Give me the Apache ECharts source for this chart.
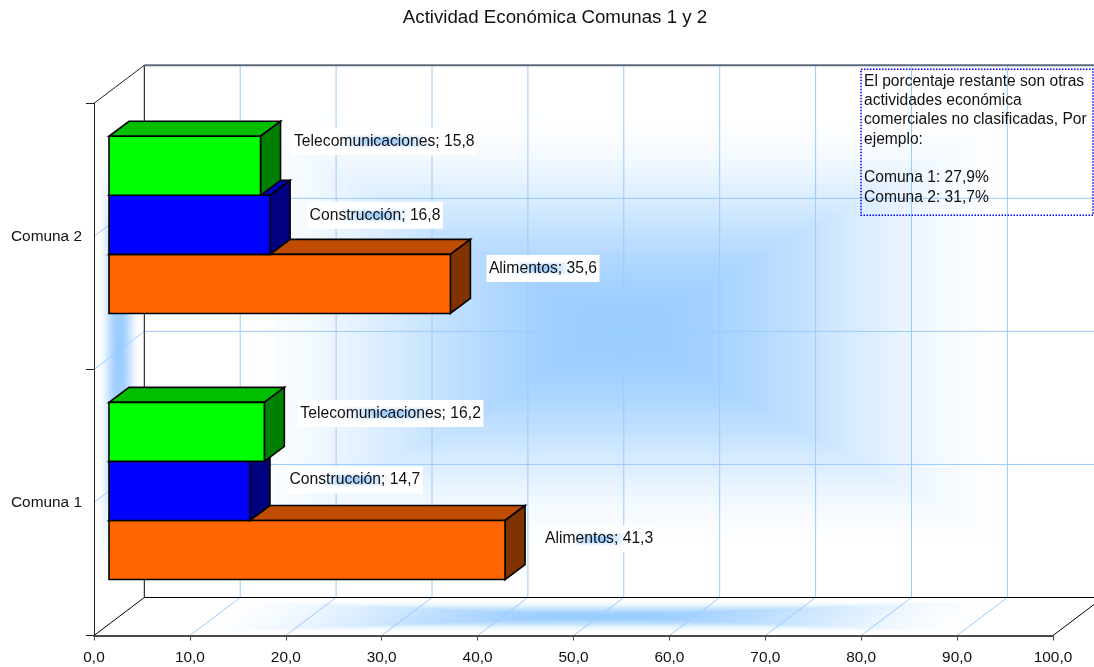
<!DOCTYPE html>
<html>
<head>
<meta charset="utf-8">
<title>Actividad Económica Comunas 1 y 2</title>
<script src="https://cdn.jsdelivr.net/npm/echarts@6/dist/echarts.min.js"></script>
<style>
  html, body { margin: 0; padding: 0; background: #fff; }
  #chart { width: 1094px; height: 667px; }
</style>
</head>
<body>
<div id="chart"></div>
<script>
// Values
const categories = ['Comuna 1', 'Comuna 2'];
const alimentos = [41.3, 35.6];
const construccion = [14.7, 16.8];
const telecomunicaciones = [16.2, 15.8];
const chartTitle = 'Actividad Económica Comunas 1 y 2';
const noteText = [
  'El porcentaje restante son otras',
  'actividades económica',
  'comerciales no clasificadas, Por',
  'ejemplo:',
  '',
  'Comuna 1: 27,9%',
  'Comuna 2: 31,7%'
].join('\n');

// Hand-placed label offsets from the bar's end: [dx, dy] per category
const alimentosLabelShift = [[37.5, -11], [36, -15.5]];
const construccionLabelShift = [[37, -11], [37, -9.5]];
const telecomLabelShift = [[33.5, -18.5], [31, -24.5]];

// 3D look of the plot box and bars, in pixels
const FONT = '"Liberation Sans", Arial, sans-serif';
const TEXT_COLOR = '#111';
const LABEL_SIZE = 15.7;
const AXIS_SIZE = 15.4;
const NOTE_SIZE = 15.6;
const TITLE_SIZE = 18.7;
const BOX_DX = 50.3, BOX_DY = 38;
const BAR_INSET_X = 15, BAR_INSET_Y = 11.5;
const BAR_DX = 20, BAR_DY = 15;
const BAR_HEIGHT_RATIO = 0.222;
const GRID_COLOR = '#99CCFF';
const GLOW = [153, 204, 255];

function glowColor(t, reach) {
  const f = t >= reach ? 0 : 0.5 * (1 + Math.cos(Math.PI * t / reach));
  const c = GLOW.map(v => Math.round(255 + (v - 255) * f));
  return 'rgb(' + c.join(',') + ')';
}

// Rectangular path gradient: nested copies of a shape shrinking to its centre
function pathGradient(corners, levels, reach) {
  const cx = corners.reduce((s, p) => s + p[0], 0) / corners.length;
  const cy = corners.reduce((s, p) => s + p[1], 0) / corners.length;
  const out = [];
  for (let i = 0; i < levels; i++) {
    const t = 1 - i / levels;
    out.push({
      type: 'polygon',
      silent: true,
      shape: { points: corners.map(p => [cx + (p[0] - cx) * t, cy + (p[1] - cy) * t]) },
      style: { fill: glowColor(t, reach), stroke: null }
    });
  }
  return out;
}

function line(x1, y1, x2, y2, stroke, lineWidth) {
  return {
    type: 'line',
    silent: true,
    shape: { x1, y1, x2, y2 },
    style: { stroke, lineWidth: lineWidth || 1 }
  };
}

// Back wall, floor and side wall with their grid lines
function renderBox(params, api) {
  const cs = params.coordSys;
  const L = cs.x, R = cs.x + cs.width, T = cs.y, B = cs.y + cs.height;
  const dx = BOX_DX, dy = BOX_DY;
  const kids = [];
  kids.push(...pathGradient([[L + dx, T - dy], [R + dx, T - dy], [R + dx, B - dy], [L + dx, B - dy]], 130, 0.85));
  kids.push(...pathGradient([[L, B], [R, B], [R + dx, B - dy], [L + dx, B - dy]], 130, 0.85));
  kids.push(...pathGradient([[L, T], [L + dx, T - dy], [L + dx, B - dy], [L, B]], 130, 0.85));

  for (let v = 10; v <= 100; v += 10) {
    const x = api.coord([v, 0])[0];
    kids.push(line(x + dx, T - dy, x + dx, B - dy, GRID_COLOR));
    if (v < 100) kids.push(line(x, B, x + dx, B - dy, GRID_COLOR));
  }
  for (let k = 1; k < 4; k++) {
    const y = T + cs.height * k / 4;
    kids.push(line(L, y, L + dx, y - dy, GRID_COLOR));
    kids.push(line(L + dx, y - dy, R + dx, y - dy, GRID_COLOR));
  }
  kids.push(line(L + dx, T - dy, L + dx, B - dy, '#000'));
  kids.push(line(L + dx, B - dy, R + dx, B - dy, '#000'));
  kids.push(line(L, T, L + dx, T - dy, '#1a2430'));
  kids.push(line(L, B, L + dx, B - dy, '#000'));
  kids.push(line(R, B, R + dx, B - dy, '#000'));
  kids.push(line(L + dx, T - dy, R + dx, T - dy, '#5b6b7b', 2));
  return { type: 'group', children: kids };
}

// Dotted note box in the upper right corner of the wall
function renderNote(params) {
  const cs = params.coordSys;
  const R = cs.x + cs.width;
  const T = cs.y;
  const x = R - 192, y = T - 34;
  return {
    type: 'group',
    children: [{
      type: 'rect',
      silent: true,
      shape: { x, y, width: 232, height: 146 },
      style: { fill: 'none', stroke: '#0000FF', lineWidth: 1.5, lineDash: [1.5, 1.5] }
    }, {
      type: 'text',
      silent: true,
      style: {
        x: x + 3,
        y: y + 2.5,
        text: noteText,
        fill: TEXT_COLOR,
        fontFamily: FONT,
        fontSize: NOTE_SIZE,
        lineHeight: 19.3,
        align: 'left',
        verticalAlign: 'top'
      }
    }]
  };
}

const measureCtx = document.createElement('canvas').getContext('2d');
function textWidth(text) {
  measureCtx.font = LABEL_SIZE + 'px "Liberation Sans", Arial, sans-serif';
  return measureCtx.measureText(text).width;
}

// One stacked bar drawn as a box: front, top and end faces plus its data label
function makeBarRenderer(name, stackIndex, colors, labelShift) {
  return function (params, api) {
    const cs = params.coordSys;
    const value = api.value(0);
    const cat = api.value(1);
    const band = cs.height / categories.length;
    const h = band * BAR_HEIGHT_RATIO;
    const centre = api.coord([0, cat]);
    const x0 = centre[0] + BAR_INSET_X;
    const x1 = api.coord([value, cat])[0] + BAR_INSET_X;
    const groupBottom = centre[1] - BAR_INSET_Y + h * 1.5;
    const yb = groupBottom - h * stackIndex;
    const yt = yb - h;
    const edge = { stroke: '#000', lineWidth: 1.6, lineJoin: 'miter' };
    const face = (points, fill) => ({
      type: 'polygon',
      shape: { points },
      style: Object.assign({ fill }, edge)
    });

    const text = name + '; ' + value.toFixed(1).replace('.', ',');
    const shift = labelShift[cat];
    const pad = 2.5;
    const bw = textWidth(text) + pad * 2;
    const bh = 27;
    const bx = x1 + shift[0];
    const by = (yb + yt) / 2 + shift[1] - bh / 2;
    const labelBox = [[bx, by], [bx + bw, by], [bx + bw, by + bh], [bx, by + bh]];

    return {
      type: 'group',
      children: [
        face([[x0, yt], [x0 + BAR_DX, yt - BAR_DY], [x1 + BAR_DX, yt - BAR_DY], [x1, yt]], colors[1]),
        face([[x1, yt], [x1 + BAR_DX, yt - BAR_DY], [x1 + BAR_DX, yb - BAR_DY], [x1, yb]], colors[2]),
        face([[x0, yt], [x1, yt], [x1, yb], [x0, yb]], colors[0])
      ].concat(pathGradient(labelBox, 24, 0.6)).concat([{
        type: 'text',
        silent: true,
        style: {
          x: bx + pad,
          y: by + bh / 2,
          text,
          fill: TEXT_COLOR,
          fontFamily: FONT,
          fontSize: LABEL_SIZE,
          align: 'left',
          verticalAlign: 'middle'
        }
      }])
    };
  };
}

function barSeries(name, stackIndex, values, colors, labelShift) {
  return {
    type: 'custom',
    name,
    coordinateSystem: 'cartesian2d',
    z: 2,
    encode: { x: 0, y: 1 },
    data: values.map((v, i) => [v, i]),
    renderItem: makeBarRenderer(name, stackIndex, colors, labelShift)
  };
}

const chart = echarts.init(document.getElementById('chart'), null, { renderer: 'canvas' });
chart.setOption({
  animation: false,
  backgroundColor: '#fff',
  textStyle: { fontFamily: FONT },
  title: {
    text: chartTitle,
    left: 550,
    top: 3,
    textAlign: 'center',
    textStyle: { fontFamily: FONT, fontSize: TITLE_SIZE, fontWeight: 'normal', color: TEXT_COLOR }
  },
  grid: { left: 94, right: 41, top: 103.3, bottom: 31.5, containLabel: false },
  xAxis: {
    type: 'value',
    min: 0,
    max: 100,
    interval: 10,
    z: 1,
    splitLine: { show: false },
    axisLine: { show: true, lineStyle: { color: '#4a4a4a', width: 2 } },
    axisTick: { show: true, length: 5, lineStyle: { color: '#4a4a4a', width: 1 } },
    axisLabel: {
      margin: 14.5,
      color: TEXT_COLOR,
      fontFamily: FONT,
      fontSize: AXIS_SIZE,
      hideOverlap: false,
      showMinLabel: true,
      showMaxLabel: true,
      formatter: v => v.toFixed(1).replace('.', ',')
    }
  },
  yAxis: {
    type: 'category',
    data: categories,
    z: 1,
    axisLine: { show: true, lineStyle: { color: '#222', width: 1 } },
    axisTick: { show: true, length: 8, lineStyle: { color: '#222', width: 1 } },
    axisLabel: { margin: 12, color: TEXT_COLOR, fontFamily: FONT, fontSize: AXIS_SIZE },
    splitLine: { show: false }
  },
  series: [
    {
      type: 'custom',
      name: 'plotBox',
      coordinateSystem: 'cartesian2d',
      z: 0,
      silent: true,
      encode: { x: 0, y: 1 },
      data: [[0, 0]],
      renderItem: renderBox
    },
    barSeries('Alimentos', 0, alimentos, ['#FF6600', '#BF4C00', '#803300'], alimentosLabelShift),
    barSeries('Construcción', 1, construccion, ['#0000FF', '#0000BF', '#000080'], construccionLabelShift),
    barSeries('Telecomunicaciones', 2, telecomunicaciones, ['#00FF00', '#00BF00', '#008000'], telecomLabelShift),
    {
      type: 'custom',
      name: 'note',
      coordinateSystem: 'cartesian2d',
      z: 5,
      silent: true,
      encode: { x: 0, y: 1 },
      data: [[0, 0]],
      renderItem: renderNote
    }
  ]
});
</script>
</body>
</html>
